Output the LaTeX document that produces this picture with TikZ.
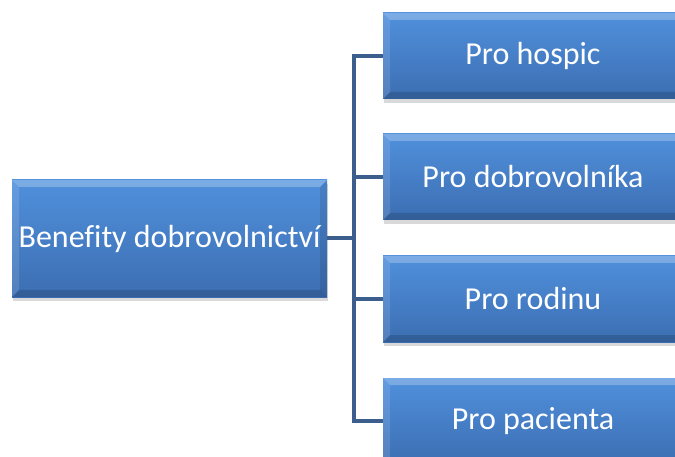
\documentclass[tikz,border=0pt]{standalone}
\usepackage{fontspec}
\setmainfont[Ligatures=NoCommon]{Carlito}
\usetikzlibrary{shadows}

\definecolor{boxtop}{RGB}{80,144,220}
\definecolor{boxbot}{RGB}{60,110,178}
\definecolor{linkblue}{RGB}{59,94,140}

\tikzset{
  benefitbox/.style={
    rectangle, inner sep=0pt, text=white,
    top color=boxtop, bottom color=boxbot,
    font=\fontsize{32}{38}\selectfont,
    drop shadow={opacity=0.3, shadow xshift=1pt, shadow yshift=-4pt},
    path picture={
      % bevel: light top and left, dark bottom and right
      \fill[white, opacity=0.25] (path picture bounding box.north west) -- (path picture bounding box.north east)
        -- ([xshift=-7pt,yshift=-7pt]path picture bounding box.north east) -- ([xshift=7pt,yshift=-7pt]path picture bounding box.north west) -- cycle;
      \fill[white, opacity=0.12] (path picture bounding box.north west) -- (path picture bounding box.south west)
        -- ([xshift=7pt,yshift=7pt]path picture bounding box.south west) -- ([xshift=7pt,yshift=-7pt]path picture bounding box.north west) -- cycle;
      \fill[black, opacity=0.15] (path picture bounding box.south west) -- (path picture bounding box.south east)
        -- ([xshift=-7pt,yshift=7pt]path picture bounding box.south east) -- ([xshift=7pt,yshift=7pt]path picture bounding box.south west) -- cycle;
      \fill[black, opacity=0.1] (path picture bounding box.north east) -- (path picture bounding box.south east)
        -- ([xshift=-7pt,yshift=7pt]path picture bounding box.south east) -- ([xshift=-7pt,yshift=-7pt]path picture bounding box.north east) -- cycle;
    }
  },
  mainbox/.style={benefitbox, minimum width=315pt, minimum height=117pt},
  subbox/.style={benefitbox, minimum width=300pt, minimum height=86pt},
  link/.style={draw=linkblue, line width=4pt}
}

\begin{document}
\begin{tikzpicture}[x=1pt, y=-1pt]
  \useasboundingbox (0,0) rectangle (675,457);

  % root and its four groups
  \node[mainbox] (benefits) at (169.5,238.5) {Benefity dobrovolnictví};
  \node[subbox] (hospic) at (533,56) {Pro hospic};
  \node[subbox] (volunteer) at (533,177) {Pro dobrovolníka};
  \node[subbox] (family) at (533,299) {Pro rodinu};
  \node[subbox] (patient) at (533,421) {Pro pacienta};

  % connectors
  \coordinate (fork) at (354,238.5);
  \draw[link] (benefits.east) -- (fork);
  \foreach \n in {hospic, volunteer, family, patient}
    \draw[link] (fork) |- (\n.west);
\end{tikzpicture}
\end{document}
